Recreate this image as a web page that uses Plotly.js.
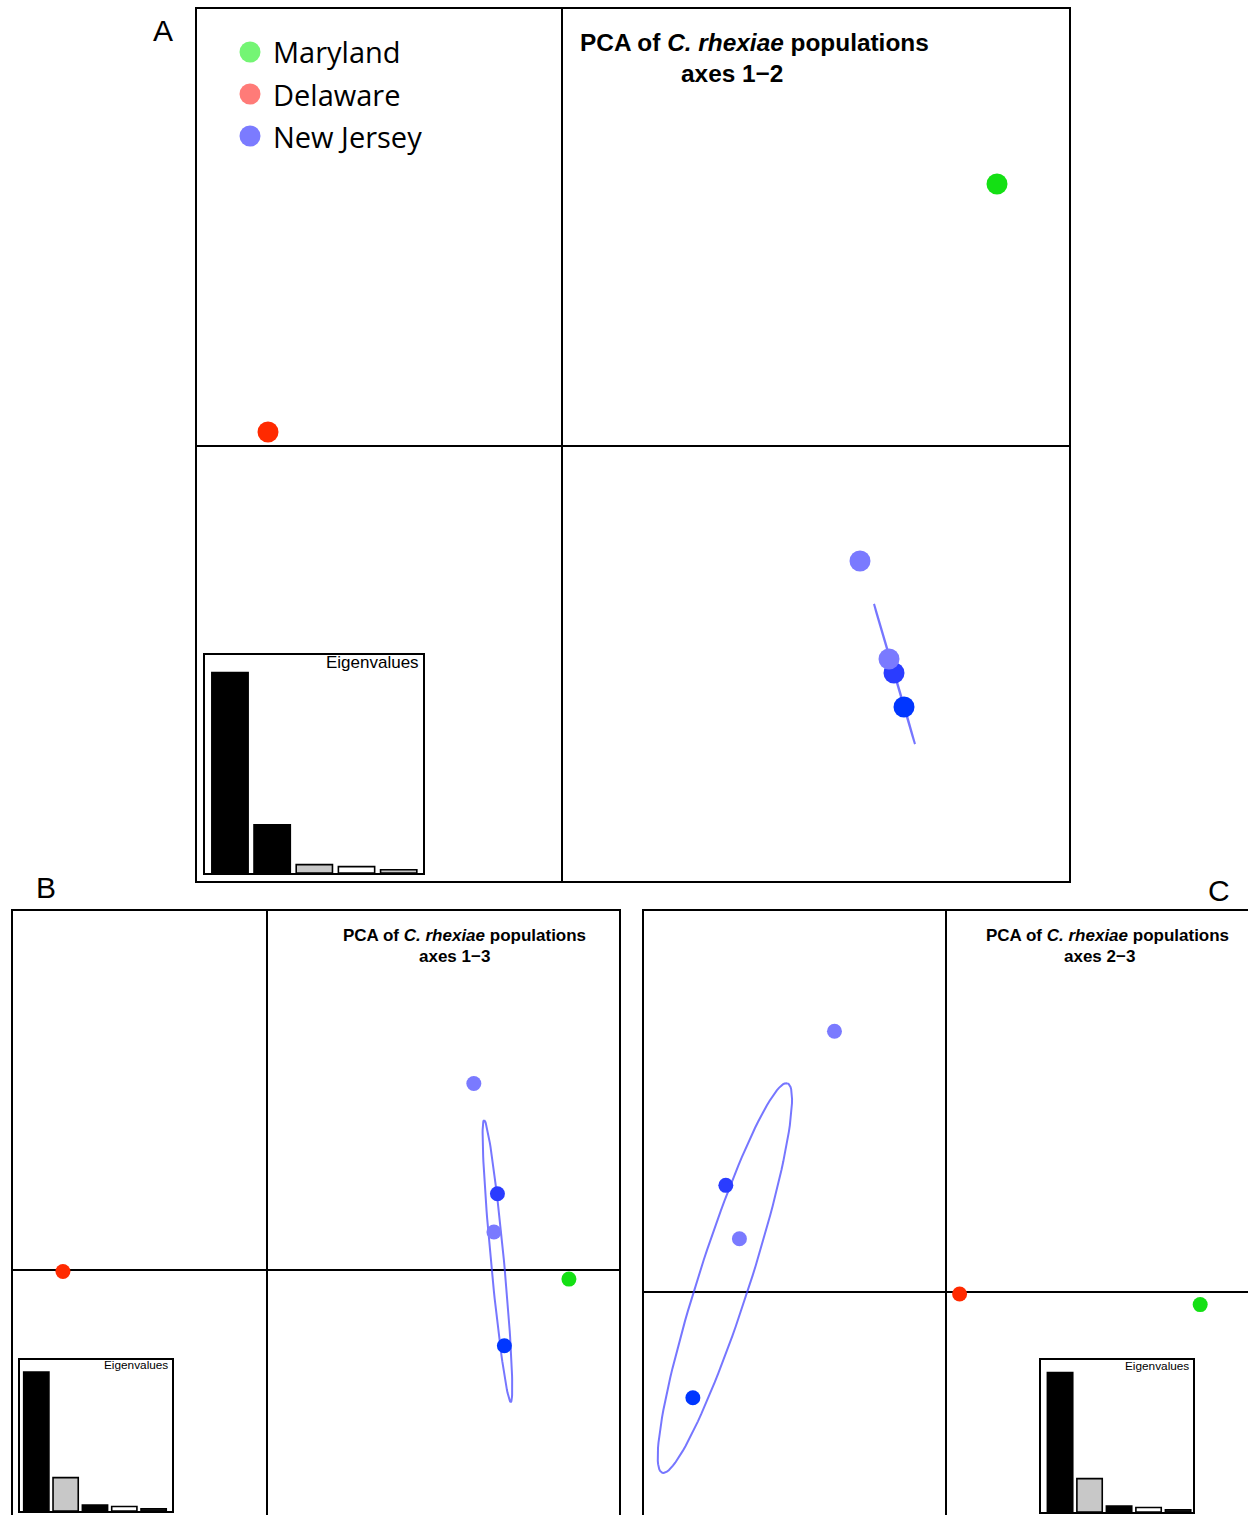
<!DOCTYPE html>
<html>
<head>
<meta charset="utf-8">
<script src="https://cdn.plot.ly/plotly-3.0.1.min.js"></script>
<style>
html,body{margin:0;padding:0;background:#fff;}
#chart{width:1248px;height:1515px;}
</style>
</head>
<body>
<div id="chart"></div>
<script>
// ---------------- DATA ----------------
const populations = ['Maryland', 'Delaware', 'New Jersey'];
// individual scores on PCA axes 1, 2, 3
const pointGroup = ['Maryland', 'Delaware', 'New Jersey', 'New Jersey', 'New Jersey', 'New Jersey'];
const axis1 = [4.35, -2.94, 2.98, 3.32, 3.27, 3.42];
const axis2 = [2.62, 0.14, -1.15, -2.27, -2.13, -2.61];
const axis3 = [-0.13, -0.02, 2.69, 1.10, 0.55, -1.09];
// New Jersey dispersion ellipse per plane: centre x, centre y, semi-major, semi-minor, angle (deg)
const njEllipse12 = [3.325, -2.28, 0.73, 0.004, 106.3];
const njEllipse13 = [3.32, 0.13, 2.04, 0.094, 95.4];
const njEllipse23 = [-2.28, 0.144, 2.11, 0.265, 72.2];
// eigenvalues (relative)
const eigenLabels = ['1', '2', '3', '4', '5'];
const eigenvalues = [100, 24, 4.2, 3.2, 1.6];

// ---------------- STYLE ----------------
const pointColor = ['#14e014', '#ff2a00', '#7a7aff', '#2a3cff', '#7a7aff', '#0036ff'];
const legendColor = {'Maryland': '#74f574', 'Delaware': '#ff7b78', 'New Jersey': '#7b7bff'};
const barColorsA = ['#000', '#000', '#c8c8c8', '#fff', '#c8c8c8'];
const barColorsB = ['#000', '#c8c8c8', '#000', '#fff', '#222'];
const barColorsC = ['#000', '#c8c8c8', '#000', '#fff', '#222'];

const W = 1248, H = 1515;
const px = v => v / W;
const py = v => 1 - v / H;

function ellipseTrace(p, xa, ya) {
  const [cx, cy, a, b, angDeg] = p;
  const t = angDeg * Math.PI / 180;
  const xs = [], ys = [];
  for (let i = 0; i <= 120; i++) {
    const u = 2 * Math.PI * i / 120;
    const ex = a * Math.cos(u), ey = b * Math.sin(u);
    xs.push(cx + ex * Math.cos(t) - ey * Math.sin(t));
    ys.push(cy + ex * Math.sin(t) + ey * Math.cos(t));
  }
  return {type: 'scatter', mode: 'lines', x: xs, y: ys, xaxis: xa, yaxis: ya,
    line: {color: 'rgba(60,60,255,0.7)', width: 2}, hoverinfo: 'skip', showlegend: false};
}
function pointsTrace(xv, yv, xa, ya, size) {
  return {type: 'scatter', mode: 'markers', x: xv, y: yv, xaxis: xa, yaxis: ya,
    text: pointGroup, hoverinfo: 'text', showlegend: false,
    marker: {color: pointColor, size: size, line: {width: 0}}};
}
function barTrace(xa, ya, colors, w) {
  return {type: 'bar', x: eigenLabels.map((d, i) => i), y: eigenvalues, xaxis: xa, yaxis: ya,
    width: w, marker: {color: colors, line: {color: '#000', width: 1.6}},
    hoverinfo: 'y', showlegend: false};
}

const traces = [
  ellipseTrace(njEllipse12, 'x', 'y'),
  pointsTrace(axis1, axis2, 'x', 'y', 21),
  barTrace('x2', 'y2', barColorsA, 0.86),
  ellipseTrace(njEllipse13, 'x3', 'y3'),
  pointsTrace(axis1, axis3, 'x3', 'y3', 15),
  barTrace('x4', 'y4', barColorsB, 0.86),
  ellipseTrace(njEllipse23, 'x5', 'y5'),
  pointsTrace(axis2, axis3, 'x5', 'y5', 15),
  barTrace('x6', 'y6', barColorsC, 0.86)
];

const mainAx = {showgrid: false, showticklabels: false, ticks: '', showline: false,
  zeroline: true, zerolinecolor: '#000', zerolinewidth: 2, fixedrange: true};
const insetAx = {showgrid: false, showticklabels: false, ticks: '', showline: false,
  zeroline: false, fixedrange: true};

const layout = {
  width: W, height: H,
  margin: {l: 0, r: 0, t: 0, b: 0},
  paper_bgcolor: '#fff', plot_bgcolor: 'rgba(0,0,0,0)',
  showlegend: false,
  font: {family: 'Liberation Sans, Arial, sans-serif', color: '#000'},
  // Panel A
  xaxis: Object.assign({}, mainAx, {domain: [px(196), px(1070)], range: [-3.66, 5.08], anchor: 'y'}),
  yaxis: Object.assign({}, mainAx, {domain: [py(882), py(8)], range: [-4.36, 4.38], anchor: 'x'}),
  xaxis2: Object.assign({}, insetAx, {domain: [px(204), px(424)], range: [-0.616, 4.6], anchor: 'y2'}),
  yaxis2: Object.assign({}, insetAx, {domain: [py(874), py(654)], range: [-0.5, 109.3], anchor: 'x2'}),
  // Panel B
  xaxis3: Object.assign({}, mainAx, {domain: [px(12), px(620)], range: [-3.674, 5.086], anchor: 'y3'}),
  yaxis3: Object.assign({}, mainAx, {domain: [0, py(910)], range: [-3.53, 5.19], anchor: 'x3'}),
  xaxis4: Object.assign({}, insetAx, {domain: [px(19), px(173)], range: [-0.59, 4.66], anchor: 'y4'}),
  yaxis4: Object.assign({}, insetAx, {domain: [py(1512), py(1359)], range: [-0.72, 109.4], anchor: 'x4'}),
  // Panel C
  xaxis5: Object.assign({}, mainAx, {domain: [px(643), 1], range: [-3.124, 3.113], anchor: 'y5'}),
  yaxis5: Object.assign({}, mainAx, {domain: [0, py(910)], range: [-2.30, 3.94], anchor: 'x5'}),
  xaxis6: Object.assign({}, insetAx, {domain: [px(1040), px(1194)], range: [-0.68, 4.54], anchor: 'y6'}),
  yaxis6: Object.assign({}, insetAx, {domain: [py(1513), py(1359)], range: [-0.7, 109.8], anchor: 'x6'}),
  shapes: [
    {type: 'rect', xref: 'x domain', yref: 'y domain', x0: 0, x1: 1, y0: 0, y1: 1, line: {color: '#000', width: 2}},
    {type: 'rect', xref: 'x2 domain', yref: 'y2 domain', x0: 0, x1: 1, y0: 0, y1: 1, line: {color: '#000', width: 2}},
    {type: 'rect', xref: 'x3 domain', yref: 'y3 domain', x0: 0, x1: 1, y0: -0.05, y1: 1, line: {color: '#000', width: 2}},
    {type: 'rect', xref: 'x4 domain', yref: 'y4 domain', x0: 0, x1: 1, y0: 0, y1: 1, line: {color: '#000', width: 2}},
    {type: 'rect', xref: 'x5 domain', yref: 'y5 domain', x0: 0, x1: 1.05, y0: -0.05, y1: 1, line: {color: '#000', width: 2}},
    {type: 'rect', xref: 'x6 domain', yref: 'y6 domain', x0: 0, x1: 1, y0: 0, y1: 1, line: {color: '#000', width: 2}}
  ],
  annotations: []
};

// legend (panel A)
const legendY = [52, 94, 136];
populations.forEach((p, i) => {
  layout.shapes.push({type: 'circle', xref: 'paper', yref: 'paper', xsizemode: 'pixel', ysizemode: 'pixel',
    xanchor: px(250), yanchor: py(legendY[i]), x0: -10.5, x1: 10.5, y0: -10.5, y1: 10.5,
    fillcolor: legendColor[p], line: {width: 0}});
  layout.annotations.push({xref: 'paper', yref: 'paper', x: px(271), y: py(legendY[i]),
    xanchor: 'left', yanchor: 'middle', showarrow: false, text: p,
    font: {family: 'Open Sans, Noto Sans, sans-serif', size: 29, color: '#000'}});
});

function addText(t, x, y, anchor, size, fam) {
  layout.annotations.push({xref: 'paper', yref: 'paper', x: px(x), y: py(y), xanchor: anchor,
    yanchor: 'middle', showarrow: false, text: t,
    font: {family: fam || 'Liberation Sans, Arial, sans-serif', size: size, color: '#000'}});
}
const titleLine = '<b>PCA of <i>C. rhexiae</i> populations</b>';
addText(titleLine, 578, 43, 'left', 24.4);
addText('<b>axes 1\u22122</b>', 679, 73, 'left', 24.4);
addText(titleLine, 341, 935, 'left', 17);
addText('<b>axes 1\u22123</b>', 417, 956, 'left', 17);
addText(titleLine, 984, 935, 'left', 17);
addText('<b>axes 2\u22123</b>', 1062, 956, 'left', 17);
addText('Eigenvalues', 421, 663, 'right', 17);
addText('Eigenvalues', 170, 1365, 'right', 11.8);
addText('Eigenvalues', 1191, 1366, 'right', 11.8);
addText('A', 163, 31, 'center', 30);
addText('B', 46, 887, 'center', 30);
addText('C', 1219, 890, 'center', 30);

Plotly.newPlot('chart', traces, layout, {staticPlot: true, displayModeBar: false});
</script>
</body>
</html>
